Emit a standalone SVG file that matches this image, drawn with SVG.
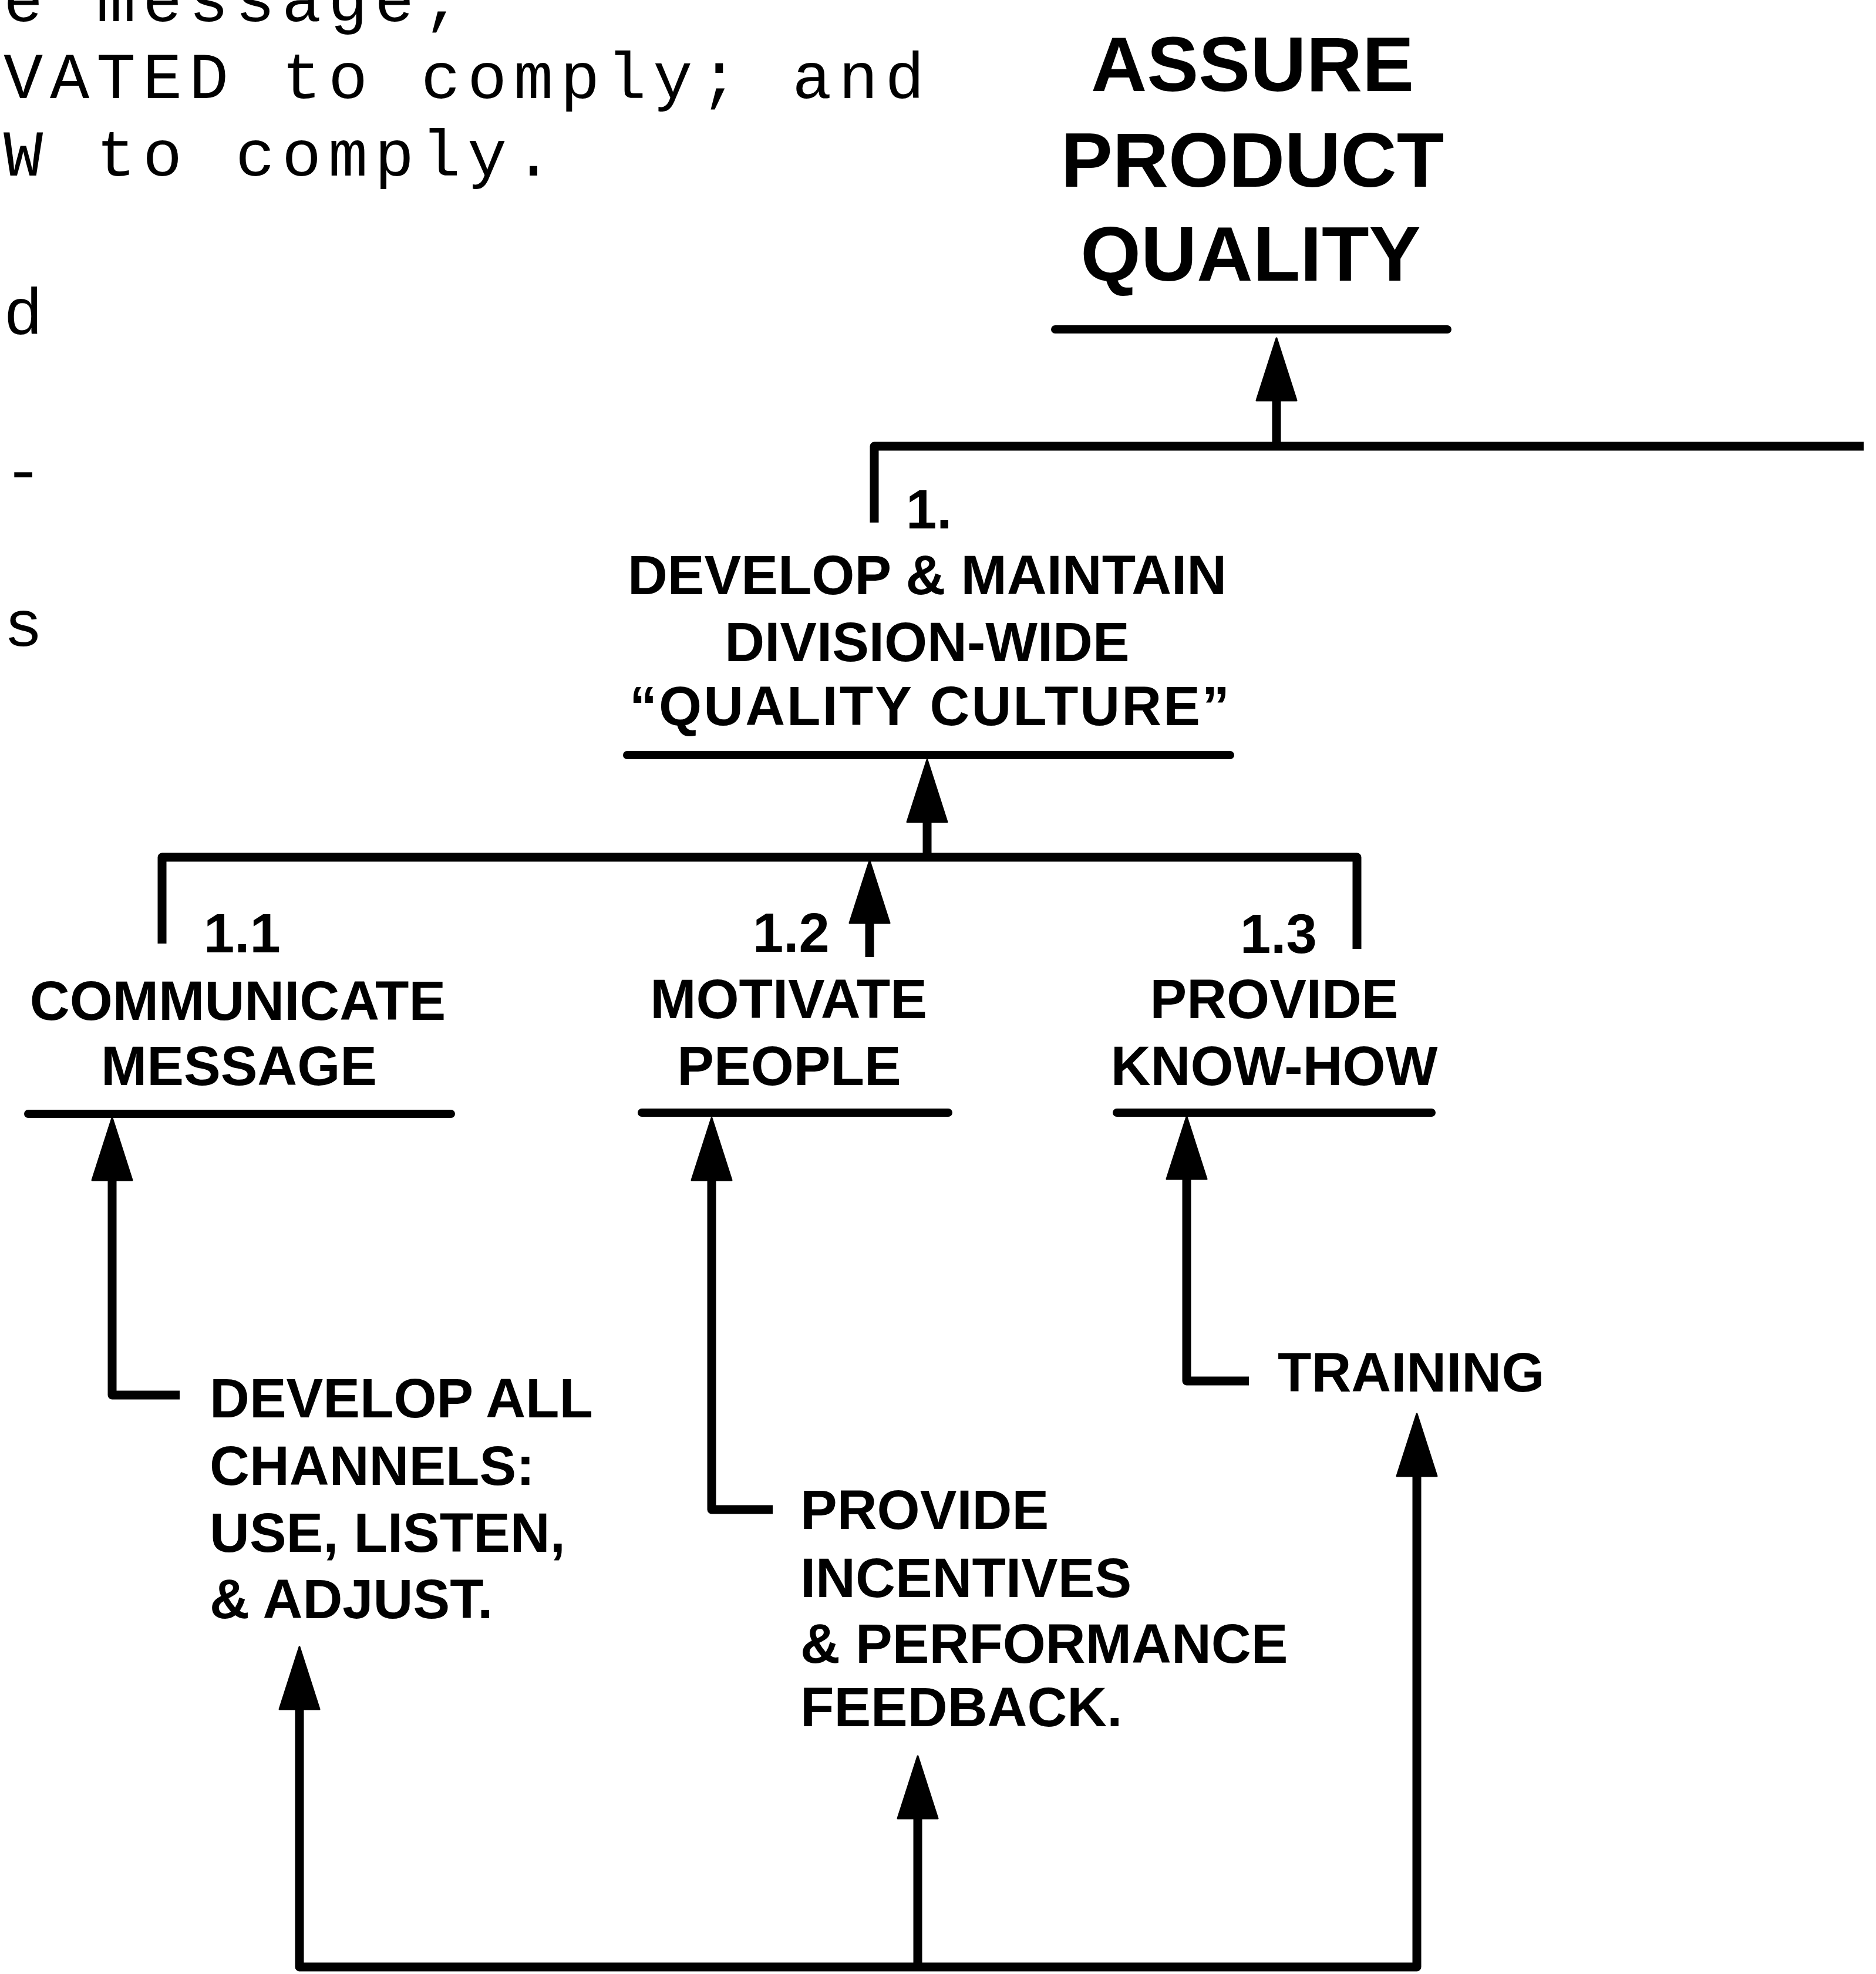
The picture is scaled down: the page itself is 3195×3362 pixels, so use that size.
<svg xmlns="http://www.w3.org/2000/svg" width="3195" height="3362" viewBox="0 0 3195 3362">
<style>
.t{font-family:"Liberation Sans",Arial,Helvetica,sans-serif;font-weight:bold;fill:#000}
.lbl{font-size:94px}
.ttl{font-size:132px}
.c{text-anchor:middle}
.tw{font-family:"Liberation Mono","Courier New",monospace;font-size:112px;letter-spacing:11.8px;fill:#000}
.ln{fill:none;stroke:#000;stroke-width:15;stroke-linejoin:round;stroke-linecap:butt}
.ul{stroke:#000;stroke-width:14;stroke-linecap:round}
</style>
<defs>
<marker id="ah" markerUnits="userSpaceOnUse" markerWidth="112" markerHeight="74" viewBox="-2 -37 112 74" refX="0" refY="0" orient="auto-start-reverse">
<path d="M0,-34 L106,0 L0,34 Z" fill="#000" stroke="#000" stroke-width="3" stroke-linejoin="round"/>
</marker>
</defs>
<rect width="3195" height="3362" fill="#fff"/>

<g id="typewriter-text">
<text class="tw" x="6" y="36">e message;</text>
<text class="tw" x="6" y="167">VATED to comply; and</text>
<text class="tw" x="6" y="299">W to comply.</text>
<text class="tw" x="6" y="569">d</text>
<text class="tw" x="6" y="838">-</text>
<text class="tw" x="6" y="1100">s</text>
</g>

<g id="connectors">
<path class="ln" d="M1489,890 V760 H3174" stroke-linecap="round"/>
<path class="ln" d="M2174,760 V682" marker-end="url(#ah)"/>
<path class="ln" d="M276,1607 V1460 H2311 V1616"/>
<path class="ln" d="M1579,1460 V1400" marker-end="url(#ah)"/>
<path class="ln" d="M1481,1630 V1572" marker-end="url(#ah)"/>
<path class="ln" d="M306,2376 H191 V2010" marker-end="url(#ah)"/>
<path class="ln" d="M1316,2571 H1212 V2010" marker-end="url(#ah)"/>
<path class="ln" d="M2127,2352 H2021 V2008" marker-end="url(#ah)"/>
<path class="ln" d="M510,2911 V3350 H2413 V2514" marker-start="url(#ah)" marker-end="url(#ah)"/>
<path class="ln" d="M1563,3350 V3097" marker-end="url(#ah)"/>
</g>

<g id="node-assure">
<text class="t ttl c" x="2133" y="155">ASSURE</text>
<text class="t ttl c" x="2133" y="318">PRODUCT</text>
<text class="t ttl c" x="2130" y="478">QUALITY</text>
<line class="ul" x1="1797" y1="561" x2="2465" y2="561" stroke-width="20"/>
</g>

<g id="node-1">
<text class="t lbl" x="1543" y="900">1.</text>
<text class="t lbl c" x="1579" y="1012">DEVELOP &amp; MAINTAIN</text>
<text class="t lbl c" x="1579" y="1126">DIVISION-WIDE</text>
<text class="t lbl" x="1072" y="1235" textLength="1022" lengthAdjust="spacing">“QUALITY CULTURE”</text>
<line class="ul" x1="1068" y1="1286" x2="2095" y2="1286"/>
</g>

<g id="node-1-1">
<text class="t lbl" x="347" y="1622">1.1</text>
<text class="t lbl c" x="405" y="1737">COMMUNICATE</text>
<text class="t lbl c" x="407" y="1848">MESSAGE</text>
<line class="ul" x1="48" y1="1897" x2="768" y2="1897"/>
</g>

<g id="node-1-2">
<text class="t lbl" x="1282" y="1621">1.2</text>
<text class="t lbl c" x="1343" y="1734">MOTIVATE</text>
<text class="t lbl c" x="1344" y="1848">PEOPLE</text>
<line class="ul" x1="1093" y1="1895" x2="1615" y2="1895"/>
</g>

<g id="node-1-3">
<text class="t lbl" x="2112" y="1623">1.3</text>
<text class="t lbl c" x="2170" y="1734">PROVIDE</text>
<text class="t lbl c" x="2170" y="1848">KNOW-HOW</text>
<line class="ul" x1="1902" y1="1895" x2="2438" y2="1895"/>
</g>

<g id="node-develop-channels">
<text class="t lbl" x="357" y="2414">DEVELOP ALL</text>
<text class="t lbl" x="357" y="2529">CHANNELS:</text>
<text class="t lbl" x="357" y="2643">USE, LISTEN,</text>
<text class="t lbl" x="357" y="2756">&amp; ADJUST.</text>
</g>

<g id="node-incentives">
<text class="t lbl" x="1363" y="2604">PROVIDE</text>
<text class="t lbl" x="1363" y="2720">INCENTIVES</text>
<text class="t lbl" x="1363" y="2832">&amp; PERFORMANCE</text>
<text class="t lbl" x="1363" y="2940">FEEDBACK.</text>
</g>

<g id="node-training">
<text class="t lbl" x="2176" y="2370">TRAINING</text>
</g>
</svg>
